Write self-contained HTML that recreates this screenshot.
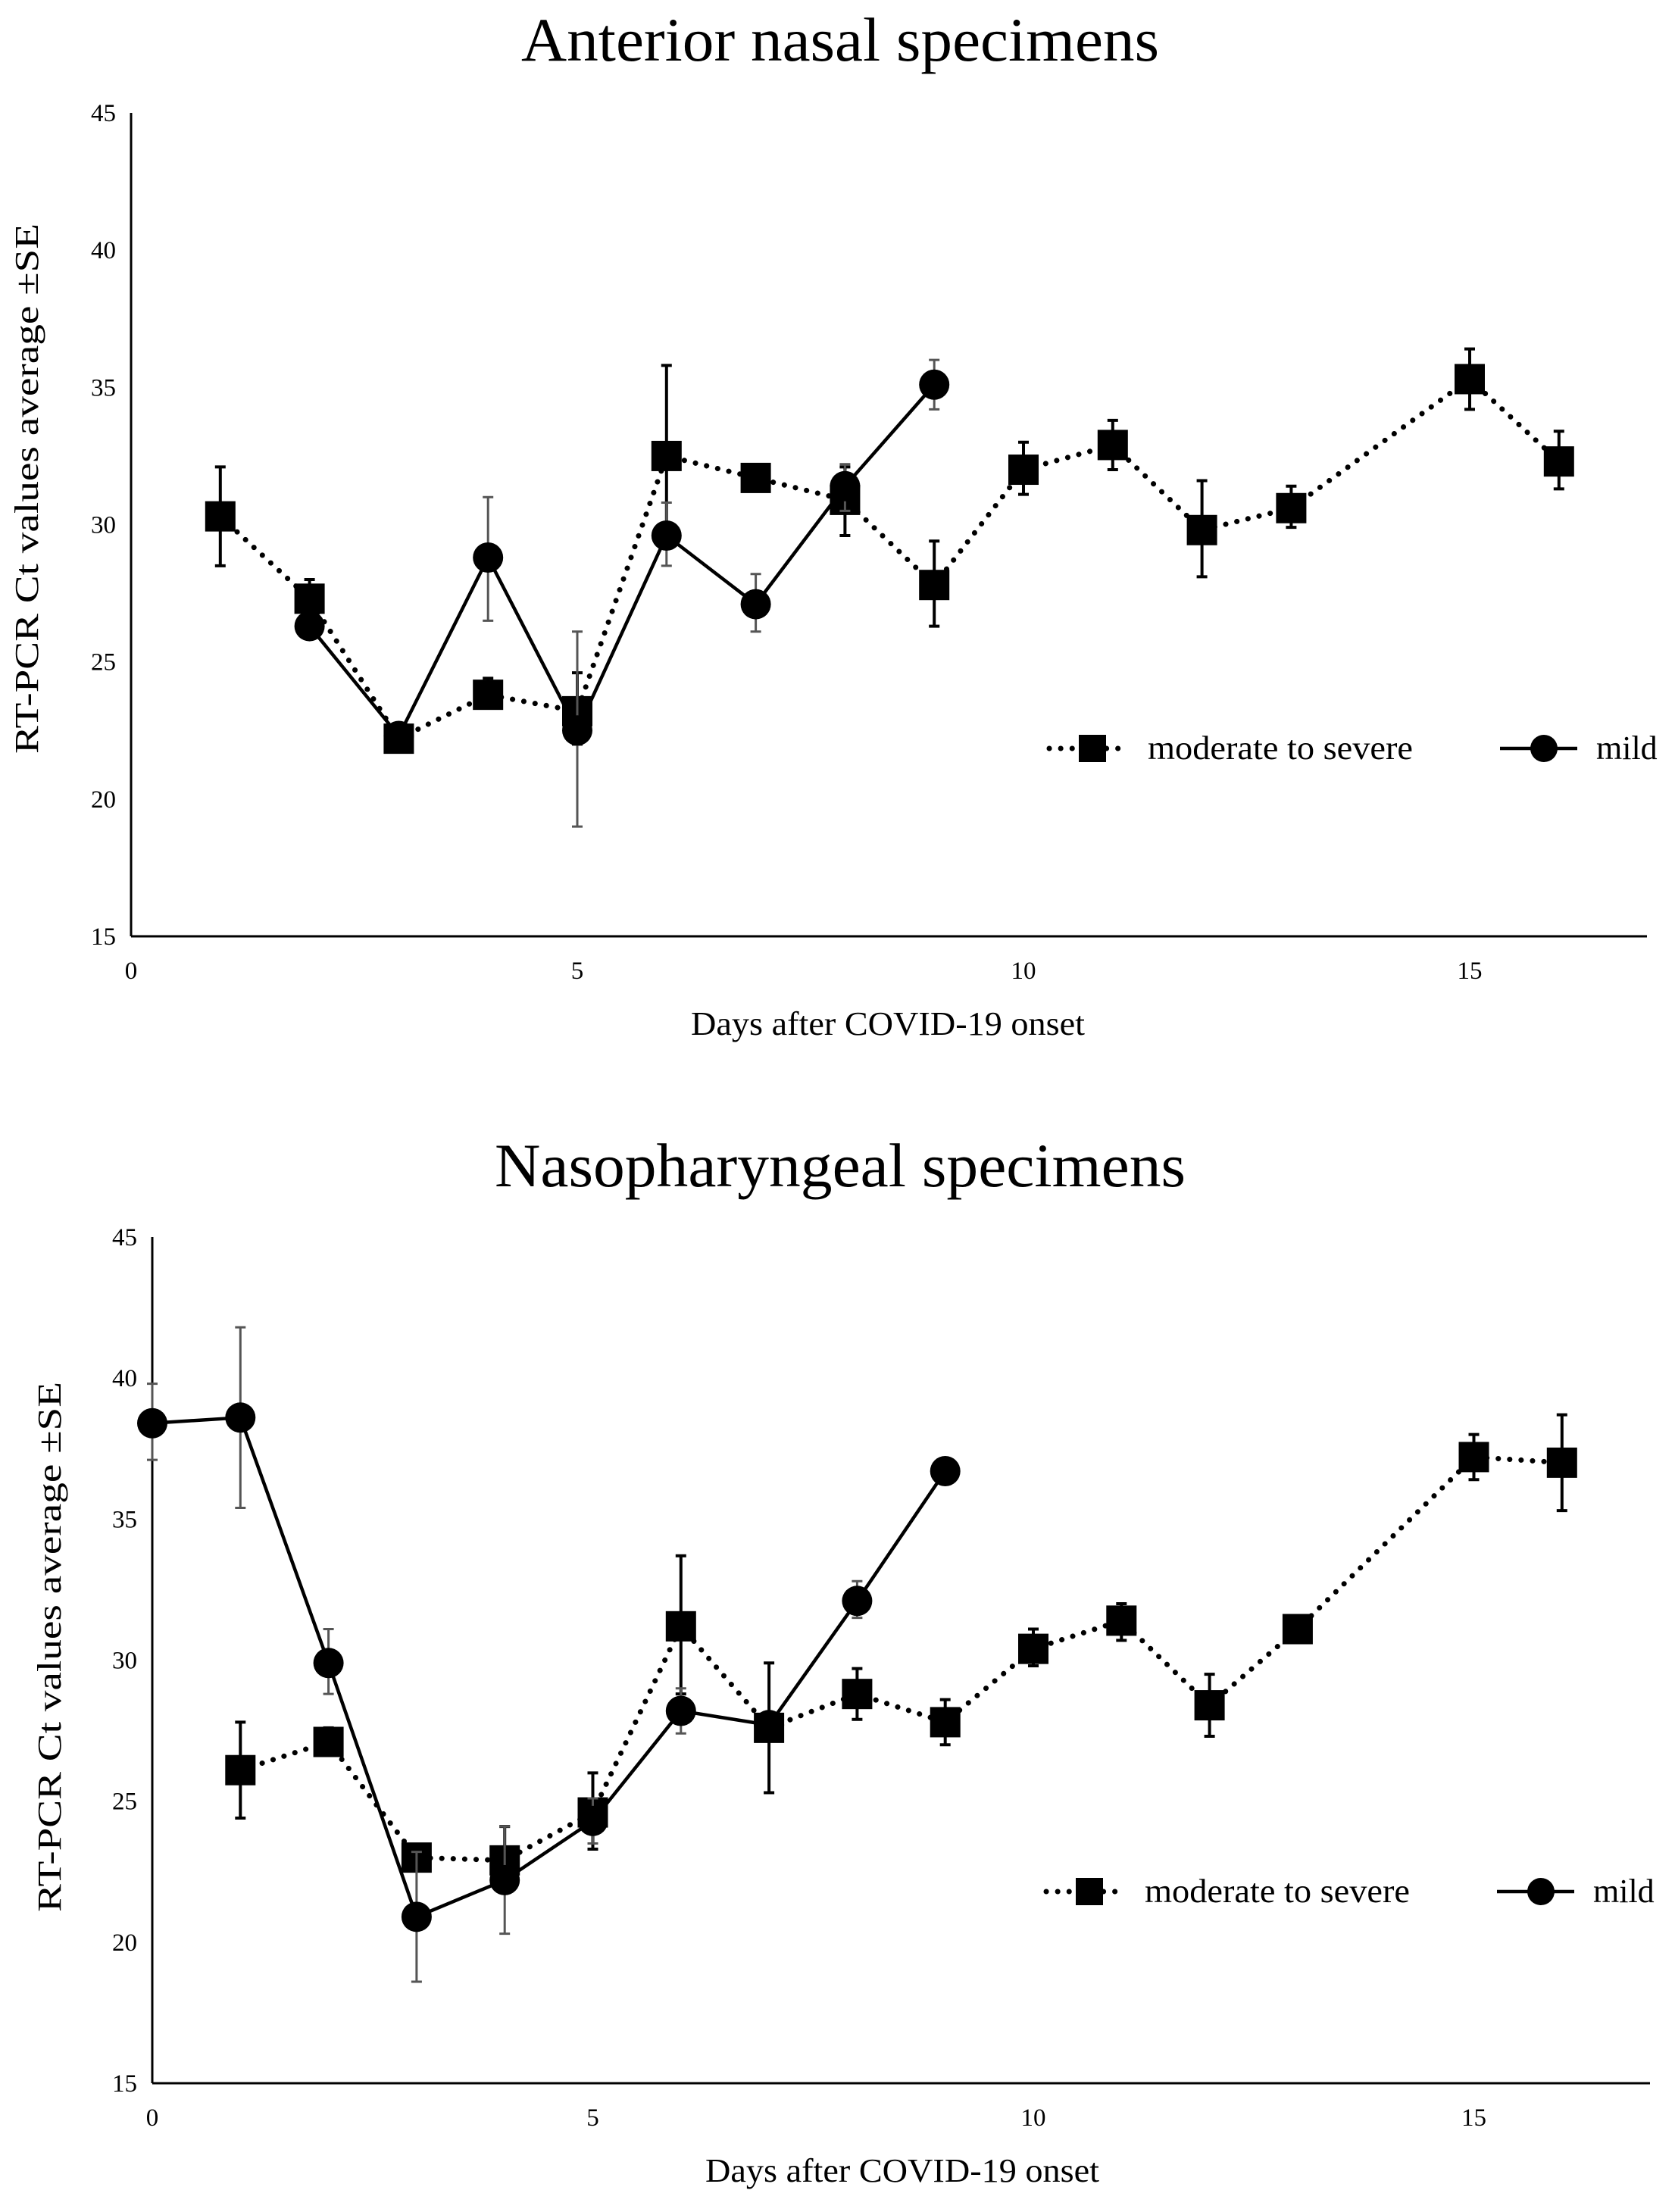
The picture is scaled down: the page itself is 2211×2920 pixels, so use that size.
<!DOCTYPE html>
<html><head><meta charset="utf-8"><style>
html,body{margin:0;padding:0;background:#fff;}
svg{display:block;font-family:"Liberation Serif",serif;}
</style></head><body>
<svg id="svg" width="2211" height="2920" viewBox="0 0 2211 2920"></svg>
<script>
// Chart 1: Anterior nasal
const days1Mod = [1,2,3,4,5,6,7,8,9,10,11,12,13,15,16];
const vals1Mod = [30.3,27.3,22.2,23.8,23.2,32.5,31.7,30.9,27.8,32.0,32.9,29.8,30.6,35.3,32.3];
const lo1Mod   = [28.5,26.6,22.0,23.4,22.0,29.5,31.5,29.6,26.3,31.1,32.0,28.1,29.9,34.2,31.3];
const hi1Mod   = [32.1,28.0,22.4,24.4,24.6,35.8,31.9,32.1,29.4,33.0,33.8,31.6,31.4,36.4,33.4];
const days1Mild = [2,3,4,5,6,7,8,9];
const vals1Mild = [26.3,22.3,28.8,22.5,29.6,27.1,31.4,35.1];
const lo1Mild   = [26.0,22.1,26.5,19.0,28.5,26.1,30.5,34.2];
const hi1Mild   = [26.6,22.5,31.0,26.1,30.8,28.2,32.2,36.0];
// Chart 2: Nasopharyngeal
const days2Mod = [1,2,3,4,5,6,7,8,9,10,11,12,13,15,16];
const vals2Mod = [26.1,27.1,23.0,22.9,24.6,31.2,27.6,28.8,27.8,30.4,31.4,28.4,31.1,37.2,37.0];
const lo2Mod   = [24.4,26.7,22.8,22.0,23.3,28.8,25.3,27.9,27.0,29.8,30.7,27.3,30.9,36.4,35.3];
const hi2Mod   = [27.8,27.6,23.2,24.1,26.0,33.7,29.9,29.7,28.6,31.1,32.0,29.5,31.3,38.0,38.7];
const days2Mild = [0,1,2,3,4,5,6,7,8,9];
const vals2Mild = [38.4,38.6,29.9,20.9,22.2,24.3,28.2,27.7,32.1,36.7];
const lo2Mild   = [37.1,35.4,28.8,18.6,20.3,23.5,27.4,27.5,31.5,36.5];
const hi2Mild   = [39.8,41.8,31.1,23.2,24.1,25.1,29.0,27.9,32.8,36.9];
const yTicks = [15,20,25,30,35,40,45];
const xTicks = [0,5,10,15];

const NS="http://www.w3.org/2000/svg";
const svg=document.getElementById('svg');
function mk(tag,attrs,parent){const e=document.createElementNS(NS,tag);for(const k in attrs)e.setAttribute(k,attrs[k]);(parent||svg).appendChild(e);return e;}

function chart(cfg){
  const g=mk('g',{});
  
  
  const X=d=>cfg.x0+d*cfg.dx;
  const Y=v=>cfg.y15-(v-15)*(cfg.y15-cfg.y45)/30;
  const t=mk('text',{x:1109,y:cfg.titleY,'font-size':82,'text-anchor':'middle',textLength:cfg.titleLen,lengthAdjust:'spacingAndGlyphs'},g);t.textContent=cfg.title;
  
  const ya=mk('line',{x1:cfg.x0,y1:cfg.y45,x2:cfg.x0,y2:cfg.y15,stroke:'#000','stroke-width':3},g);
  
  const xa=mk('line',{x1:cfg.x0,y1:cfg.y15,x2:cfg.xEnd,y2:cfg.y15,stroke:'#000','stroke-width':3},g);
  
  yTicks.forEach(v=>{const e=mk('text',{x:cfg.x0-20,y:Y(v)+11,'font-size':33,'text-anchor':'end'},g);e.textContent=v;
    });
  xTicks.forEach(v=>{const e=mk('text',{x:X(v),y:cfg.y15+56,'font-size':33,'text-anchor':'middle'},g);e.textContent=v;
    });
  const xt=mk('text',{x:cfg.xtX,y:cfg.y15+130,'font-size':44,'text-anchor':'middle',textLength:520,lengthAdjust:'spacingAndGlyphs'},g);xt.textContent='Days after COVID-19 onset';
  
  const yt=mk('text',{x:0,y:0,'font-size':44,'text-anchor':'middle',textLength:700,lengthAdjust:'spacingAndGlyphs',transform:`translate(${cfg.ytX},${cfg.ytY}) rotate(-90)`},g);yt.textContent='RT-PCR Ct values average  \u00B1SE';
  
  function series(days,vals,lo,hi,kind){
    const pts=days.map((d,i)=>X(d)+','+Y(vals[i])).join(' ');
    const col=kind==='mild'?'#555':'#000';
    days.forEach((d,i)=>{const x=X(d);
      const e=mk('path',{d:`M${x},${Y(lo[i])}V${Y(hi[i])}M${x-7},${Y(lo[i])}h14M${x-7},${Y(hi[i])}h14`,stroke:col,'stroke-width':kind==='mild'?3:4,fill:'none'},g);
      });
    const l=mk('polyline',{points:pts,fill:'none',stroke:'#000','stroke-width':kind==='mild'?4.5:7,'stroke-dasharray':kind==='mild'?'none':'0.1 15','stroke-linecap':'round'},g);
    
    days.forEach((d,i)=>{let m;
      if(kind==='mild')m=mk('circle',{cx:X(d),cy:Y(vals[i]),r:20,fill:'#000'},g);
      else m=mk('rect',{x:X(d)-20,y:Y(vals[i])-20,width:40,height:40,fill:'#000'},g);
      });
  }
  series(cfg.dm,cfg.vm,cfg.lm,cfg.hm,'moderate');
  series(cfg.dl,cfg.vl,cfg.ll,cfg.hl,'mild');
  const lg=mk('g',{},g);
  const ly=cfg.legY,lx=cfg.legX;
  const e1=mk('g',{},lg);
  mk('line',{x1:lx,y1:ly,x2:lx+102,y2:ly,stroke:'#000','stroke-width':7,'stroke-dasharray':'0.1 15','stroke-linecap':'round'},e1);
  mk('rect',{x:lx+39,y:ly-18,width:36,height:36,fill:'#000'},e1);
  const t1=mk('text',{x:lx+130,y:ly+14,'font-size':44,textLength:350,lengthAdjust:'spacingAndGlyphs'},e1);t1.textContent='moderate to severe';
  const e2=mk('g',{},lg);
  mk('line',{x1:lx+595,y1:ly,x2:lx+697,y2:ly,stroke:'#000','stroke-width':4.5},e2);
  mk('circle',{cx:lx+653,cy:ly,r:18,fill:'#000'},e2);
  const t2=mk('text',{x:lx+722,y:ly+14,'font-size':44},e2);t2.textContent='mild';
}
chart({name:'anterior-nasal-chart',title:'Anterior nasal specimens',titleY:80,titleLen:842,x0:173,dx:117.8,xEnd:2174,y45:149,y15:1236,
  ytX:50,ytY:645,xtX:1172,legX:1385,legY:988,
  dm:days1Mod,vm:vals1Mod,lm:lo1Mod,hm:hi1Mod,dl:days1Mild,vl:vals1Mild,ll:lo1Mild,hl:hi1Mild});
chart({name:'nasopharyngeal-chart',title:'Nasopharyngeal specimens',titleY:1566,titleLen:912,x0:201,dx:116.3,xEnd:2178,y45:1633,y15:2750,
  ytX:80,ytY:2174,xtX:1191,legX:1381,legY:2497,
  dm:days2Mod,vm:vals2Mod,lm:lo2Mod,hm:hi2Mod,dl:days2Mild,vl:vals2Mild,ll:lo2Mild,hl:hi2Mild});
</script>
</body></html>
